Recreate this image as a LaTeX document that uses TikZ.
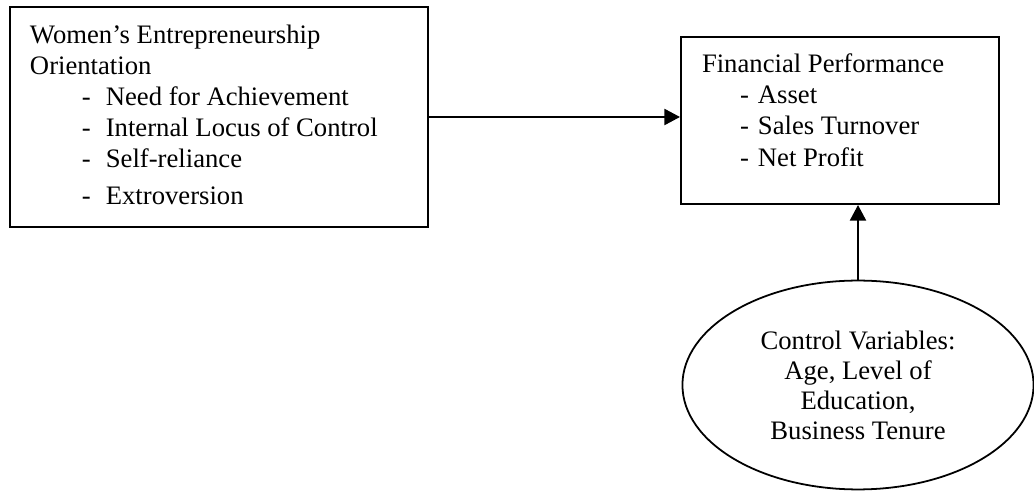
\documentclass[tikz,border=0pt]{standalone}
\usepackage{fontspec}
\setmainfont{Liberation Serif}
\usepackage{tikz}
\usetikzlibrary{arrows.meta,positioning,shapes.geometric}
\tikzset{
  varnode/.style = {draw=black, line width=0.9pt, inner sep=0pt},
  var_box/.style = {varnode, rectangle},
  var_ell/.style = {varnode, ellipse, line width=0.8pt, align=center,
    font=\fontsize{12}{13.5}\selectfont},
  var_txt/.style = {inner sep=0pt, align=left,
    font=\fontsize{12}{14}\selectfont},% text inside the boxes
}
\newcommand{\itemleft}{\hspace*{23.4pt}-\hspace{6.75pt}}
\newcommand{\itemright}{\hspace*{17.1pt}-\hspace{4.1pt}}

\begin{document}
\begin{tikzpicture}[->,>={Triangle[length=7pt,width=7.2pt]},x=0.45pt,y=-0.45pt,
  line width=0.9pt]
\useasboundingbox (0,0) rectangle (1034,491);
\node [var_box, minimum width=188.1pt, minimum height=99pt] (weo) at (219,117) {};
\node [var_txt, below right=8.1pt and 9pt of weo.north west] (weotext)
  {Women’s Entrepreneurship\\
   Orientation\\
   \itemleft Need for Achievement\\
   \itemleft Internal Locus of Control\\
   \itemleft Self-reliance\\[2.5pt]
   \itemleft Extroversion};
\node [var_box, minimum width=143.1pt, minimum height=75.15pt] (fp) at (840,120.5) {};
\node [var_txt, below right=7.65pt and 9.45pt of fp.north west] (fptext)
  {Financial Performance\\
   \itemright Asset\\
   \itemright Sales Turnover\\
   \itemright Net Profit};
\node [var_ell, minimum width=158pt, minimum height=94pt] (cv) at (858,385)
  {Control Variables:\\ Age, Level of\\ Education,\\ Business Tenure};

\draw (weo.east) -- (weo.east -| fp.west);
\draw (cv.north) -- (cv.north |- fp.south);
\end{tikzpicture}
\end{document}
